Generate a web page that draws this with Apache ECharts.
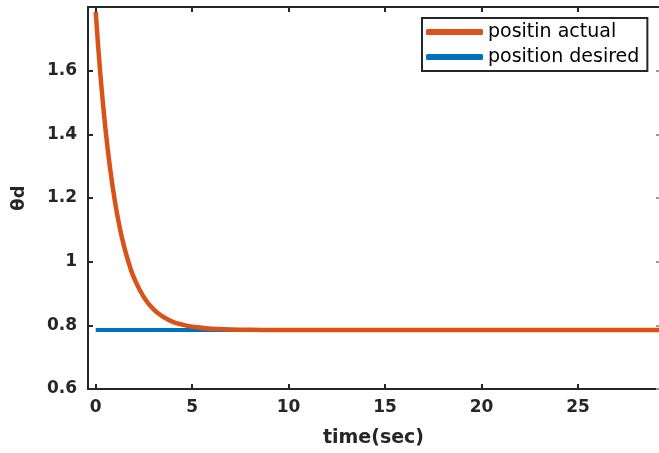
<!DOCTYPE html>
<html>
<head>
<meta charset="utf-8">
<script src="https://cdn.jsdelivr.net/npm/echarts@6/dist/echarts.min.js"></script>
<style>
  html, body { margin: 0; padding: 0; background: #fff; }
  #main { width: 659px; height: 453px; }
</style>
</head>
<body>
<div id="main"></div>
<script>
// values
var timeActual = [0, 0.25, 0.5, 0.75, 1, 1.25, 1.5, 1.75, 2, 2.5, 3, 3.5, 4, 4.5, 5, 6, 7, 8, 10, 15, 20, 25, 30];
var posActual = [1.785, 1.582, 1.420, 1.291, 1.188, 1.106, 1.041, 0.989, 0.947, 0.888, 0.850, 0.827, 0.811, 0.802, 0.796, 0.789, 0.787, 0.786, 0.785, 0.785, 0.785, 0.785, 0.785];
var timeDesired = [0, 30];
var posDesired = [0.785, 0.785];
var xTicks = [0, 5, 10, 15, 20, 25];
var yTicks = [0.6, 0.8, 1, 1.2, 1.4, 1.6];

var axisColor = '#262626';
var font = 'DejaVu Sans';

function pairs(xs, ys) {
  return xs.map(function (x, i) { return [x, ys[i]]; });
}

var chart = echarts.init(document.getElementById('main'));
var option = {
  animation: false,
  backgroundColor: '#fff',
  grid: { left: 88, top: 7, right: 0, bottom: 64 },
  legend: {
    orient: 'vertical',
    left: 422, top: 18,
    padding: [4, 8, 4, 4],
    itemGap: 5,
    itemWidth: 57, itemHeight: 6,
    icon: 'roundRect',
    borderColor: axisColor, borderWidth: 2,
    backgroundColor: '#fff',
    textStyle: { fontFamily: font, fontSize: 19, color: '#000', lineHeight: 20 },
    data: ['positin actual', 'position desired']
  },
  xAxis: [{
    type: 'value', min: -0.4, max: 29.2,
    name: 'time(sec)', nameLocation: 'middle', nameGap: 40,
    nameTextStyle: { fontFamily: font, fontSize: 19, fontWeight: 'bold', color: axisColor },
    axisLine: { onZero: false, lineStyle: { color: axisColor, width: 2 } },
    axisTick: { inside: true, length: 5, customValues: xTicks, lineStyle: { color: axisColor, width: 2 } },
    axisLabel: { customValues: xTicks, margin: 10, fontFamily: font, fontSize: 17, fontWeight: 'bold', color: axisColor },
    splitLine: { show: false }
  }, {
    type: 'value', min: -0.4, max: 29.2, position: 'top',
    axisLine: { onZero: false, lineStyle: { color: axisColor, width: 2 } },
    axisTick: { inside: true, length: 5, customValues: xTicks, lineStyle: { color: axisColor, width: 2 } },
    axisLabel: { show: false },
    splitLine: { show: false }
  }],
  yAxis: [{
    type: 'value', min: 0.6, max: 1.8,
    name: 'θd', nameLocation: 'middle', nameGap: 60, nameRotate: 90,
    nameTextStyle: { fontFamily: font, fontSize: 18, fontWeight: 'bold', color: axisColor },
    axisLine: { show: true, onZero: false, lineStyle: { color: axisColor, width: 2 } },
    axisTick: { show: true, inside: true, length: 5, customValues: yTicks, lineStyle: { color: axisColor, width: 2 } },
    axisLabel: { customValues: yTicks, margin: 11, fontFamily: font, fontSize: 17, fontWeight: 'bold', color: axisColor },
    splitLine: { show: false }
  }, {
    type: 'value', min: 0.6, max: 1.8, position: 'right',
    axisLine: { show: false, onZero: false },
    axisTick: { show: true, inside: true, length: 3, customValues: yTicks, lineStyle: { color: '#999', width: 2 } },
    axisLabel: { show: false },
    splitLine: { show: false }
  }],
  series: [{
    name: 'positin actual',
    type: 'line',
    data: pairs(timeActual, posActual),
    smooth: true,
    showSymbol: false,
    z: 3,
    color: '#D95319',
    lineStyle: { width: 4.5, color: '#D95319' }
  }, {
    name: 'position desired',
    type: 'line',
    data: pairs(timeDesired, posDesired),
    showSymbol: false,
    z: 2,
    color: '#0072BD',
    lineStyle: { width: 4, color: '#0072BD' }
  }]
};
chart.setOption(option);
</script>
</body>
</html>
